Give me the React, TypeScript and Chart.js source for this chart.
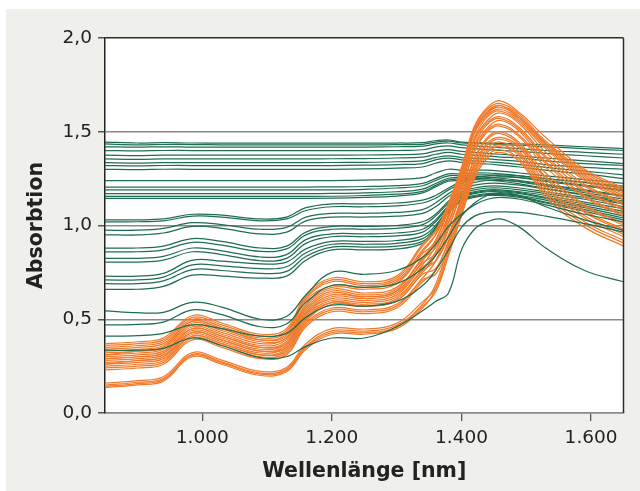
import { useEffect, useRef } from 'react';
import { Chart, registerables } from 'chart.js';

Chart.register(...registerables);

const WAVELENGTHS = [850, 900, 940, 985, 1030, 1090, 1130, 1160, 1200, 1250, 1300, 1340, 1360, 1380, 1400, 1420, 1440, 1460, 1490, 1530, 1590, 1650];

const X_TICKS = [1000, 1200, 1400, 1600];
const X_TICK_LABELS = ['1.000', '1.200', '1.400', '1.600'];
const Y_TICK_LABELS = ['0,0', '0,5', '1,0', '1,5', '2,0'];

// Green spectra – nearly flat, high absorbance
const GREEN_F1 = [1.445, 1.44, 1.442, 1.44, 1.44, 1.44, 1.44, 1.44, 1.44, 1.44, 1.44, 1.442, 1.452, 1.456, 1.445, 1.442, 1.44, 1.438, 1.435, 1.43, 1.42, 1.41];
const GREEN_F2 = [1.435, 1.43, 1.432, 1.432, 1.43, 1.43, 1.43, 1.43, 1.43, 1.43, 1.431, 1.433, 1.445, 1.45, 1.44, 1.437, 1.435, 1.432, 1.428, 1.42, 1.41, 1.4];
const GREEN_F3 = [1.42, 1.418, 1.42, 1.418, 1.418, 1.418, 1.418, 1.418, 1.418, 1.418, 1.42, 1.423, 1.435, 1.44, 1.43, 1.425, 1.42, 1.415, 1.41, 1.4, 1.39, 1.38];
const GREEN_F4 = [1.4, 1.398, 1.4, 1.4, 1.4, 1.4, 1.4, 1.4, 1.4, 1.4, 1.4, 1.404, 1.418, 1.425, 1.415, 1.41, 1.405, 1.4, 1.395, 1.385, 1.372, 1.36];
const GREEN_F5 = [1.375, 1.373, 1.375, 1.375, 1.375, 1.375, 1.375, 1.375, 1.375, 1.376, 1.378, 1.382, 1.397, 1.405, 1.395, 1.39, 1.385, 1.38, 1.372, 1.36, 1.345, 1.33];
const GREEN_F6 = [1.355, 1.353, 1.355, 1.355, 1.355, 1.355, 1.355, 1.355, 1.356, 1.357, 1.36, 1.365, 1.38, 1.39, 1.38, 1.375, 1.37, 1.365, 1.36, 1.345, 1.33, 1.32];
const GREEN_F7 = [1.335, 1.333, 1.335, 1.335, 1.335, 1.335, 1.335, 1.335, 1.336, 1.337, 1.34, 1.345, 1.362, 1.372, 1.362, 1.358, 1.355, 1.35, 1.342, 1.325, 1.31, 1.3];
const GREEN_F8 = [1.32, 1.318, 1.32, 1.32, 1.32, 1.32, 1.32, 1.32, 1.32, 1.322, 1.325, 1.33, 1.35, 1.36, 1.35, 1.345, 1.34, 1.335, 1.325, 1.31, 1.29, 1.27];
const GREEN_F9 = [1.3, 1.298, 1.3, 1.3, 1.3, 1.3, 1.3, 1.3, 1.3, 1.302, 1.306, 1.312, 1.332, 1.345, 1.337, 1.332, 1.328, 1.322, 1.312, 1.295, 1.275, 1.25];
const GREEN_F10 = [1.24, 1.24, 1.24, 1.24, 1.24, 1.24, 1.24, 1.24, 1.24, 1.242, 1.246, 1.255, 1.28, 1.3, 1.295, 1.295, 1.295, 1.29, 1.28, 1.265, 1.245, 1.225];
const GREEN_F11 = [1.205, 1.205, 1.205, 1.205, 1.205, 1.205, 1.205, 1.205, 1.206, 1.208, 1.213, 1.225, 1.25, 1.275, 1.275, 1.28, 1.28, 1.275, 1.265, 1.25, 1.23, 1.21];
const GREEN_F12 = [1.19, 1.19, 1.19, 1.19, 1.19, 1.19, 1.19, 1.19, 1.19, 1.193, 1.2, 1.212, 1.24, 1.265, 1.265, 1.27, 1.27, 1.265, 1.255, 1.235, 1.21, 1.185];
const GREEN_F13 = [1.17, 1.17, 1.17, 1.17, 1.17, 1.17, 1.17, 1.17, 1.171, 1.174, 1.18, 1.194, 1.224, 1.252, 1.255, 1.26, 1.258, 1.253, 1.24, 1.22, 1.19, 1.16];
const GREEN_F14 = [1.155, 1.155, 1.155, 1.155, 1.155, 1.155, 1.155, 1.155, 1.156, 1.16, 1.167, 1.182, 1.214, 1.243, 1.248, 1.252, 1.25, 1.245, 1.232, 1.21, 1.175, 1.14];
const GREEN_F15 = [1.145, 1.145, 1.145, 1.145, 1.145, 1.145, 1.145, 1.145, 1.146, 1.15, 1.157, 1.174, 1.206, 1.236, 1.24, 1.244, 1.242, 1.236, 1.222, 1.198, 1.16, 1.12];

// Green spectra – middle group with bands at ~985 and ~1150 nm
const GREEN_M1 = [1.03, 1.03, 1.035, 1.06, 1.055, 1.035, 1.045, 1.095, 1.115, 1.115, 1.12, 1.135, 1.16, 1.2, 1.235, 1.255, 1.265, 1.27, 1.265, 1.25, 1.23, 1.2];
const GREEN_M2 = [1.02, 1.02, 1.025, 1.05, 1.045, 1.025, 1.035, 1.08, 1.1, 1.1, 1.105, 1.12, 1.145, 1.19, 1.225, 1.245, 1.255, 1.26, 1.255, 1.24, 1.215, 1.19];
const GREEN_M3 = [0.975, 0.975, 0.985, 1.015, 1.005, 0.98, 0.99, 1.045, 1.065, 1.065, 1.07, 1.085, 1.12, 1.17, 1.21, 1.23, 1.24, 1.24, 1.235, 1.215, 1.185, 1.155];
const GREEN_M4 = [0.95, 0.95, 0.96, 0.995, 0.985, 0.955, 0.965, 1.025, 1.045, 1.045, 1.05, 1.065, 1.1, 1.155, 1.195, 1.215, 1.225, 1.225, 1.215, 1.195, 1.165, 1.13];
const GREEN_M5 = [0.88, 0.88, 0.89, 0.93, 0.915, 0.88, 0.89, 0.965, 0.995, 0.995, 1.0, 1.02, 1.06, 1.13, 1.18, 1.2, 1.21, 1.21, 1.2, 1.18, 1.15, 1.115];
const GREEN_M6 = [0.86, 0.86, 0.87, 0.91, 0.895, 0.862, 0.875, 0.95, 0.98, 0.98, 0.985, 1.005, 1.05, 1.12, 1.17, 1.19, 1.2, 1.2, 1.19, 1.17, 1.14, 1.1];
const GREEN_M7 = [0.825, 0.825, 0.835, 0.88, 0.865, 0.832, 0.845, 0.925, 0.955, 0.955, 0.96, 0.98, 1.03, 1.105, 1.16, 1.18, 1.19, 1.19, 1.18, 1.16, 1.125, 1.09];
const GREEN_M8 = [0.805, 0.805, 0.815, 0.86, 0.845, 0.812, 0.825, 0.905, 0.94, 0.94, 0.945, 0.965, 1.02, 1.1, 1.155, 1.175, 1.185, 1.185, 1.175, 1.15, 1.115, 1.075];
const GREEN_M9 = [0.73, 0.73, 0.745, 0.815, 0.81, 0.795, 0.805, 0.875, 0.915, 0.915, 0.92, 0.945, 1.0, 1.09, 1.15, 1.17, 1.18, 1.18, 1.17, 1.145, 1.105, 1.065];
const GREEN_M10 = [0.71, 0.71, 0.725, 0.79, 0.785, 0.77, 0.78, 0.855, 0.9, 0.9, 0.905, 0.93, 0.99, 1.08, 1.14, 1.16, 1.17, 1.17, 1.16, 1.135, 1.095, 1.05];
const GREEN_M11 = [0.69, 0.69, 0.705, 0.765, 0.76, 0.745, 0.755, 0.835, 0.885, 0.885, 0.89, 0.915, 0.98, 1.075, 1.135, 1.155, 1.165, 1.165, 1.155, 1.125, 1.085, 1.04];
const GREEN_M12 = [0.66, 0.66, 0.675, 0.735, 0.73, 0.72, 0.73, 0.815, 0.87, 0.87, 0.875, 0.905, 0.97, 1.07, 1.13, 1.15, 1.16, 1.16, 1.15, 1.12, 1.075, 1.03];

// Green spectra – lowest ones
const GREEN_L1 = [0.545, 0.535, 0.537, 0.59, 0.565, 0.5, 0.515, 0.63, 0.75, 0.74, 0.76, 0.83, 0.9, 0.995, 1.06, 1.11, 1.14, 1.15, 1.14, 1.11, 1.06, 1.02];
const GREEN_L2 = [0.47, 0.473, 0.485, 0.55, 0.525, 0.46, 0.475, 0.59, 0.68, 0.67, 0.69, 0.77, 0.84, 0.94, 1.05, 1.12, 1.16, 1.175, 1.16, 1.1, 1.03, 0.975];
const GREEN_L3 = [0.41, 0.413, 0.425, 0.47, 0.45, 0.41, 0.425, 0.51, 0.575, 0.57, 0.595, 0.68, 0.76, 0.87, 0.99, 1.05, 1.07, 1.073, 1.07, 1.05, 1.01, 0.965];
const GREEN_L4 = [0.335, 0.335, 0.345, 0.4, 0.36, 0.295, 0.3, 0.355, 0.4, 0.4, 0.46, 0.545, 0.595, 0.64, 0.87, 0.98, 1.02, 1.035, 0.99, 0.88, 0.76, 0.7];

// Orange spectra
const ORANGE_1 = [0.135, 0.15, 0.17, 0.3, 0.26, 0.2, 0.22, 0.34, 0.42, 0.42, 0.45, 0.56, 0.66, 0.87, 1.08, 1.28, 1.39, 1.42, 1.37, 1.18, 1.02, 0.92];
const ORANGE_2 = [0.142, 0.157, 0.177, 0.307, 0.267, 0.207, 0.227, 0.349, 0.429, 0.428, 0.458, 0.57, 0.645, 0.84, 1.05, 1.25, 1.36, 1.39, 1.34, 1.15, 0.99, 0.89];
const ORANGE_3 = [0.149, 0.164, 0.184, 0.313, 0.273, 0.213, 0.234, 0.357, 0.438, 0.437, 0.467, 0.58, 0.684, 0.896, 1.102, 1.306, 1.414, 1.445, 1.392, 1.214, 1.052, 0.952];
const ORANGE_4 = [0.159, 0.173, 0.193, 0.322, 0.282, 0.222, 0.243, 0.369, 0.45, 0.448, 0.478, 0.594, 0.666, 0.854, 1.063, 1.264, 1.374, 1.404, 1.353, 1.166, 1.006, 0.906];
const ORANGE_5 = [0.23, 0.24, 0.26, 0.39, 0.35, 0.29, 0.31, 0.46, 0.54, 0.53, 0.56, 0.7, 0.76, 0.92, 1.13, 1.33, 1.44, 1.47, 1.42, 1.25, 1.08, 0.98];
const ORANGE_6 = [0.24, 0.25, 0.27, 0.4, 0.36, 0.3, 0.32, 0.47, 0.55, 0.54, 0.57, 0.71, 0.74, 0.88, 1.09, 1.29, 1.4, 1.43, 1.38, 1.2, 1.04, 0.94];
const ORANGE_7 = [0.25, 0.26, 0.28, 0.41, 0.37, 0.31, 0.33, 0.48, 0.56, 0.55, 0.58, 0.72, 0.81, 0.98, 1.18, 1.39, 1.5, 1.53, 1.47, 1.31, 1.15, 1.05];
const ORANGE_8 = [0.26, 0.27, 0.29, 0.41, 0.37, 0.31, 0.34, 0.49, 0.58, 0.57, 0.6, 0.74, 0.77, 0.91, 1.12, 1.32, 1.43, 1.46, 1.41, 1.23, 1.07, 0.97];
const ORANGE_9 = [0.26, 0.28, 0.3, 0.42, 0.38, 0.32, 0.35, 0.5, 0.59, 0.57, 0.6, 0.75, 0.84, 1.01, 1.21, 1.42, 1.52, 1.56, 1.5, 1.34, 1.18, 1.08];
const ORANGE_10 = [0.27, 0.28, 0.3, 0.43, 0.39, 0.33, 0.35, 0.51, 0.59, 0.58, 0.61, 0.76, 0.81, 0.95, 1.15, 1.36, 1.47, 1.5, 1.44, 1.28, 1.11, 1.01];
const ORANGE_11 = [0.28, 0.29, 0.31, 0.43, 0.39, 0.33, 0.36, 0.52, 0.6, 0.59, 0.62, 0.77, 0.86, 1.04, 1.23, 1.45, 1.55, 1.58, 1.52, 1.37, 1.21, 1.11];
const ORANGE_12 = [0.29, 0.3, 0.32, 0.44, 0.4, 0.34, 0.37, 0.53, 0.61, 0.6, 0.63, 0.78, 0.81, 0.94, 1.14, 1.35, 1.46, 1.49, 1.43, 1.26, 1.1, 1.0];
const ORANGE_13 = [0.29, 0.3, 0.32, 0.45, 0.41, 0.35, 0.37, 0.53, 0.62, 0.61, 0.64, 0.79, 0.89, 1.06, 1.26, 1.47, 1.58, 1.61, 1.55, 1.41, 1.24, 1.14];
const ORANGE_14 = [0.3, 0.31, 0.33, 0.45, 0.41, 0.35, 0.38, 0.54, 0.63, 0.62, 0.65, 0.8, 0.85, 0.99, 1.19, 1.4, 1.51, 1.54, 1.48, 1.33, 1.16, 1.06];
const ORANGE_15 = [0.31, 0.32, 0.34, 0.46, 0.42, 0.36, 0.39, 0.55, 0.64, 0.62, 0.65, 0.81, 0.92, 1.09, 1.28, 1.5, 1.6, 1.64, 1.57, 1.44, 1.27, 1.17];
const ORANGE_16 = [0.31, 0.33, 0.35, 0.47, 0.43, 0.37, 0.4, 0.56, 0.65, 0.63, 0.66, 0.82, 0.88, 1.02, 1.22, 1.43, 1.54, 1.57, 1.51, 1.36, 1.19, 1.09];
const ORANGE_17 = [0.32, 0.33, 0.35, 0.48, 0.44, 0.38, 0.4, 0.57, 0.66, 0.64, 0.67, 0.83, 0.92, 1.08, 1.27, 1.49, 1.59, 1.62, 1.56, 1.42, 1.25, 1.15];
const ORANGE_18 = [0.33, 0.34, 0.36, 0.49, 0.45, 0.39, 0.41, 0.58, 0.67, 0.66, 0.69, 0.85, 0.91, 1.05, 1.25, 1.46, 1.56, 1.6, 1.54, 1.39, 1.22, 1.12];
const ORANGE_19 = [0.34, 0.35, 0.37, 0.49, 0.45, 0.39, 0.42, 0.6, 0.68, 0.67, 0.7, 0.86, 0.95, 1.11, 1.3, 1.52, 1.62, 1.65, 1.59, 1.45, 1.29, 1.19];
const ORANGE_20 = [0.35, 0.36, 0.38, 0.5, 0.46, 0.4, 0.43, 0.61, 0.7, 0.68, 0.71, 0.87, 0.95, 1.09, 1.28, 1.5, 1.6, 1.63, 1.57, 1.43, 1.26, 1.16];
const ORANGE_21 = [0.36, 0.37, 0.39, 0.51, 0.47, 0.41, 0.44, 0.62, 0.71, 0.69, 0.72, 0.89, 0.97, 1.12, 1.31, 1.53, 1.63, 1.665, 1.6, 1.47, 1.3, 1.2];
const ORANGE_22 = [0.37, 0.38, 0.4, 0.52, 0.48, 0.42, 0.45, 0.63, 0.72, 0.7, 0.73, 0.9, 0.97, 1.1, 1.29, 1.51, 1.61, 1.64, 1.58, 1.44, 1.28, 1.18];

const GREEN_LOW = [GREEN_L1, GREEN_L2, GREEN_L3, GREEN_L4];
const GREEN_REST = [
  GREEN_F1, GREEN_F2, GREEN_F3, GREEN_F4, GREEN_F5, GREEN_F6, GREEN_F7, GREEN_F8,
  GREEN_F9, GREEN_F10, GREEN_F11, GREEN_F12, GREEN_F13, GREEN_F14, GREEN_F15,
  GREEN_M1, GREEN_M2, GREEN_M3, GREEN_M4, GREEN_M5, GREEN_M6, GREEN_M7, GREEN_M8,
  GREEN_M9, GREEN_M10, GREEN_M11, GREEN_M12,
];
const ORANGE_ALL = [
  ORANGE_1, ORANGE_2, ORANGE_3, ORANGE_4, ORANGE_5, ORANGE_6, ORANGE_7, ORANGE_8,
  ORANGE_9, ORANGE_10, ORANGE_11, ORANGE_12, ORANGE_13, ORANGE_14, ORANGE_15,
  ORANGE_16, ORANGE_17, ORANGE_18, ORANGE_19, ORANGE_20, ORANGE_21, ORANGE_22,
];

const GREEN = '#1f6e50';
const ORANGE = '#f17a2b';
const FONT = "'DejaVu Sans', 'Liberation Sans', sans-serif";

function toDataset(values: number[], color: string, label: string) {
  return {
    label,
    data: WAVELENGTHS.map((x, i) => ({ x, y: values[i] })),
    borderColor: color,
    borderWidth: 1.25,
    pointRadius: 0,
    fill: false,
    tension: 0.4,
  };
}

const plotBackground = {
  id: 'plotBackground',
  beforeDraw(chart: any) {
    const { ctx, chartArea: a } = chart;
    ctx.save();
    ctx.fillStyle = '#ffffff';
    ctx.fillRect(a.left, a.top, a.right - a.left, a.bottom - a.top);
    ctx.restore();
  },
};

const rightFrame = {
  id: 'rightFrame',
  afterDraw(chart: any) {
    const { ctx, chartArea: a } = chart;
    ctx.save();
    ctx.strokeStyle = '#2b2b2b';
    ctx.lineWidth = 1.5;
    ctx.beginPath();
    ctx.moveTo(a.right, a.top);
    ctx.lineTo(a.right, a.bottom);
    ctx.stroke();
    ctx.restore();
  },
};

export default function App() {
  const canvasRef = useRef<HTMLCanvasElement | null>(null);

  useEffect(() => {
    if (!canvasRef.current) return;
    const datasets = [
      ...GREEN_LOW.map((v, i) => toDataset(v, GREEN, `Grün L${i + 1}`)),
      ...ORANGE_ALL.map((v, i) => toDataset(v, ORANGE, `Orange ${i + 1}`)),
      ...GREEN_REST.map((v, i) => toDataset(v, GREEN, `Grün ${i + 1}`)),
    ];
    const chart = new Chart(canvasRef.current, {
      type: 'line',
      data: { datasets },
      plugins: [plotBackground, rightFrame],
      options: {
        animation: false,
        responsive: true,
        maintainAspectRatio: false,
        layout: { padding: { top: 29, right: 16.5, left: 0, bottom: 0 } },
        plugins: { legend: { display: false }, tooltip: { enabled: false } },
        scales: {
          x: {
            type: 'linear',
            min: 850,
            max: 1650,
            afterBuildTicks: (axis: any) => {
              axis.ticks = X_TICKS.map((v) => ({ value: v }));
            },
            afterFit: (scale: any) => {
              scale.height = 78;
            },
            ticks: {
              callback: (_v: any, i: number) => X_TICK_LABELS[i],
              color: '#222',
              padding: 6,
              maxRotation: 0,
              font: { family: FONT, size: 18.5 },
            },
            grid: {
              drawOnChartArea: false,
              drawTicks: true,
              tickLength: 8,
              tickColor: '#555',
              lineWidth: 1.3,
            },
            border: { display: true, color: '#8a8a8a', width: 1.5 },
            title: {
              display: true,
              text: 'Wellenlänge [nm]',
              color: '#222',
              font: { family: FONT, size: 20.5, weight: 'bold' },
              padding: { top: 0, bottom: 7 },
            },
          },
          y: {
            type: 'linear',
            min: 0,
            max: 2,
            afterFit: (scale: any) => {
              scale.width = 99;
            },
            ticks: {
              stepSize: 0.5,
              callback: (_v: any, i: number) => Y_TICK_LABELS[i],
              color: '#222',
              padding: 6,
              font: { family: FONT, size: 18.5 },
            },
            grid: {
              color: (ctx: any) => (ctx.tick && ctx.tick.value === 2 ? '#2b2b2b' : '#8a8a8a'),
              lineWidth: 1.5,
              drawTicks: true,
              tickLength: 7,
              tickColor: '#555',
            },
            border: { display: true, color: '#222', width: 1.5 },
            title: {
              display: true,
              text: 'Absorbtion',
              color: '#222',
              font: { family: FONT, size: 20.5, weight: 'bold' },
              padding: { top: 18, bottom: 0 },
            },
          },
        },
      },
    });
    return () => chart.destroy();
  }, []);

  return (
    <div style={{ position: 'absolute', left: 0, top: 0, width: 640, height: 491, background: '#ffffff' }}>
      <div style={{ position: 'absolute', left: 6, top: 9, width: 634, height: 482, background: '#efefeb' }}>
        <canvas ref={canvasRef} />
      </div>
    </div>
  );
}
